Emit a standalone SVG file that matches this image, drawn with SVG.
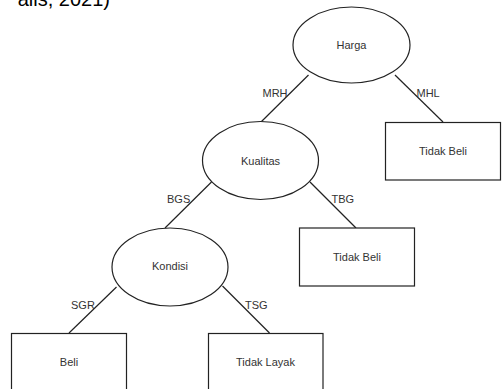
<svg xmlns="http://www.w3.org/2000/svg" width="504" height="389" viewBox="0 0 504 389">
<style>
.n{fill:#fff;stroke:#222;stroke-width:1.2}
.t{font-family:"Liberation Sans",Arial,sans-serif;font-size:11px;fill:#333;text-anchor:middle;dominant-baseline:central}
.e{stroke:#222;stroke-width:1.2;fill:none}
.l{font-family:"Liberation Sans",Arial,sans-serif;font-size:11px;fill:#333;dominant-baseline:central}
</style>
<rect width="504" height="389" fill="#fff"/>
<text x="110" y="5.5" font-family="Liberation Sans,Arial,sans-serif" font-size="20" text-anchor="end" fill="#000">ails, 2021)</text>
<g id="connectors">
<line class="e" x1="308.5" y1="75" x2="261" y2="122"/>
<line class="e" x1="395" y1="75" x2="443" y2="122"/>
<line class="e" x1="211.5" y1="182" x2="165" y2="228"/>
<line class="e" x1="310" y1="182" x2="356" y2="228"/>
<line class="e" x1="116.5" y1="287" x2="69" y2="333"/>
<line class="e" x1="222.5" y1="286" x2="269.5" y2="333"/>
<text class="l" x="262.5" y="93">MRH</text>
<text class="l" x="416.5" y="93">MHL</text>
<text class="l" x="167" y="199">BGS</text>
<text class="l" x="331.5" y="199">TBG</text>
<text class="l" x="71" y="305">SGR</text>
<text class="l" x="245" y="305">TSG</text>
</g>
<g id="harga"><ellipse class="n" cx="351.5" cy="45" rx="58.5" ry="38"/><text class="t" x="351.5" y="45">Harga</text></g>
<g id="tidakbeli1"><rect class="n" x="385.5" y="122.5" width="115" height="57.5"/><text class="t" x="443" y="151">Tidak Beli</text></g>
<g id="kualitas"><ellipse class="n" cx="260.5" cy="160.5" rx="58" ry="39"/><text class="t" x="260.5" y="160.5">Kualitas</text></g>
<g id="tidakbeli2"><rect class="n" x="299.5" y="228" width="115" height="58"/><text class="t" x="357" y="257">Tidak Beli</text></g>
<g id="kondisi"><ellipse class="n" cx="170" cy="267" rx="58" ry="39"/><text class="t" x="170" y="266">Kondisi</text></g>
<g id="beli"><rect class="n" x="11.5" y="333.5" width="115" height="58"/><text class="t" x="69" y="362">Beli</text></g>
<g id="tidaklayak"><rect class="n" x="208.5" y="333.5" width="114.5" height="58"/><text class="t" x="265.5" y="362">Tidak Layak</text></g>
</svg>
